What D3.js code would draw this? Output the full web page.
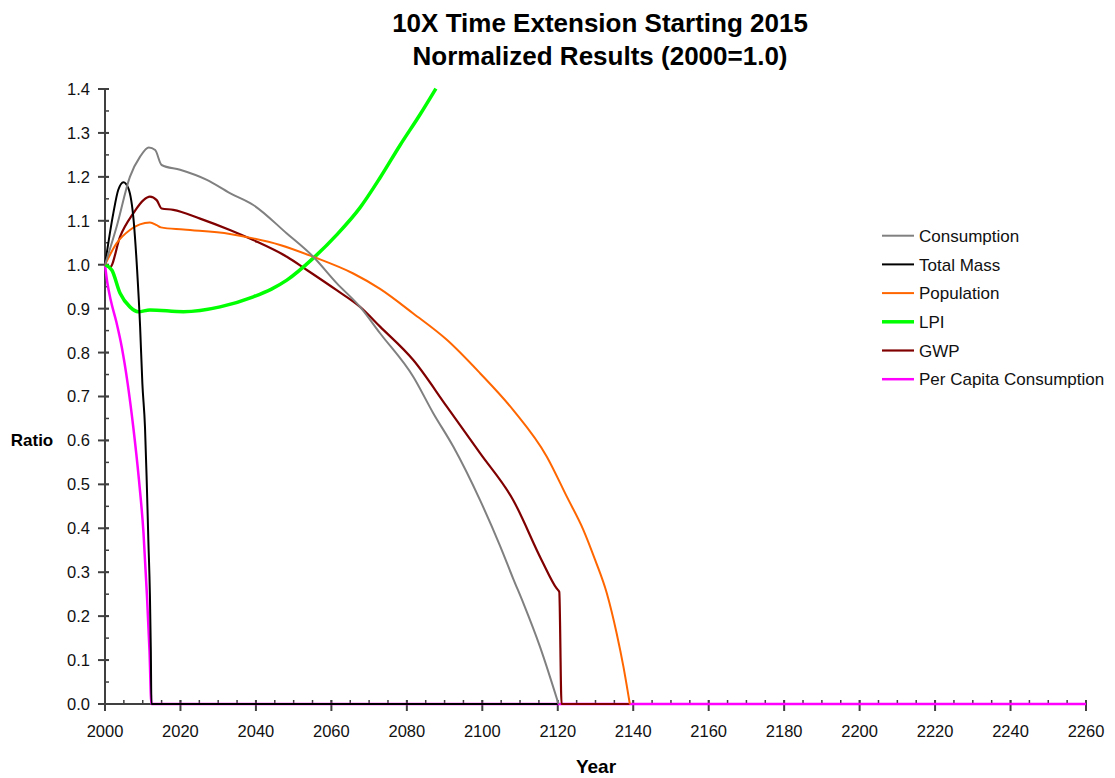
<!DOCTYPE html>
<html>
<head>
<meta charset="utf-8">
<script src="https://cdn.jsdelivr.net/npm/d3@7"></script>
<style>
  body { margin: 0; background: #fff; }
  svg { display: block; font-family: "Liberation Sans", Arial, sans-serif; }
</style>
</head>
<body>
<svg></svg>
<script>

const width = 1115;
const height = 778;

// tick labels
const xTicks = [2000, 2020, 2040, 2060, 2080, 2100, 2120, 2140, 2160, 2180, 2200, 2220, 2240, 2260];
const yTicks = [0, 0.1, 0.2, 0.3, 0.4, 0.5, 0.6, 0.7, 0.8, 0.9, 1.0, 1.1, 1.2, 1.3, 1.4];

const seriesNames = ['Consumption', 'Total Mass', 'Population', 'LPI', 'GWP', 'Per Capita Consumption'];
const seriesColors = ['#808080', '#000000', '#ff6600', '#00ff00', '#800000', '#ff00ff'];

// values (year, ratio)
const consumptionYears = [2000, 2003.1, 2006.6, 2009.3, 2011.6, 2013.3, 2015, 2019.9, 2027, 2033.1, 2039.3, 2048.2, 2055.2, 2061.4, 2067.6, 2072.9, 2081.7, 2087, 2092.3, 2099.4, 2104.7, 2108.2, 2110.9, 2115.3, 2120.2];
const consumptionVals  = [1.0, 1.087, 1.200, 1.246, 1.267, 1.261, 1.227, 1.216, 1.193, 1.163, 1.136, 1.071, 1.018, 0.958, 0.904, 0.844, 0.745, 0.662, 0.586, 0.464, 0.36, 0.285, 0.229, 0.130, 0.0];

const massYears = [2000, 2002.2, 2003.5, 2004.9, 2006.2, 2007.6, 2008.5, 2009.3, 2009.9, 2010.6, 2011.05, 2011.5, 2011.9, 2012.15, 2012.3, 2120];
const massVals  = [1.0, 1.117, 1.170, 1.188, 1.174, 1.10, 0.99, 0.86, 0.73, 0.63, 0.51, 0.37, 0.25, 0.12, 0.0, 0.0];

const populationYears = [2000, 2003.1, 2006.6, 2011.9, 2013.7, 2014.8, 2020.8, 2033.1, 2039.3, 2046.4, 2055.2, 2065.8, 2072.9, 2081.7, 2090.6, 2099.4, 2108.2, 2117.1, 2122.4, 2126.8, 2129.9, 2133, 2135.6, 2137.4, 2139.1];
const populationVals  = [1.0, 1.049, 1.079, 1.096, 1.090, 1.085, 1.080, 1.070, 1.060, 1.045, 1.018, 0.980, 0.945, 0.889, 0.829, 0.753, 0.669, 0.563, 0.472, 0.396, 0.328, 0.252, 0.161, 0.085, 0.0];

const lpiYears = [2000, 2001.8, 2004, 2006.6, 2008.8, 2011.9, 2020.8, 2030.5, 2039.3, 2044, 2048.2, 2055.2, 2061.4, 2067.6, 2072.9, 2078.2, 2083.5, 2087.7];
const lpiVals  = [1.0, 0.988, 0.935, 0.904, 0.893, 0.897, 0.893, 0.904, 0.927, 0.944, 0.965, 1.015, 1.068, 1.130, 1.198, 1.272, 1.342, 1.401];

const gwpYears = [2000, 2001.3, 2004, 2007.5, 2010.2, 2011.9, 2013.7, 2015, 2018.1, 2025.2, 2033.1, 2039.3, 2048.2, 2053.5, 2061.4, 2067.6, 2072.9, 2081.7, 2090.6, 2099.4, 2108.2, 2115.7, 2119.7, 2120.4, 2121, 2139];
const gwpVals  = [1.0, 0.994, 1.064, 1.117, 1.147, 1.155, 1.147, 1.128, 1.125, 1.105, 1.079, 1.056, 1.018, 0.988, 0.942, 0.904, 0.859, 0.783, 0.677, 0.571, 0.464, 0.328, 0.263, 0.255, 0.0, 0.0];

const perCapitaYears = [2000, 2000.6, 2001.5, 2003, 2004.5, 2006, 2007.5, 2009, 2010.2, 2011.1, 2011.8, 2012.3, 2260];
const perCapitaVals  = [1.0, 0.96, 0.92, 0.87, 0.81, 0.73, 0.63, 0.51, 0.39, 0.25, 0.12, 0.0, 0.0];

const seriesYears = [consumptionYears, massYears, populationYears, lpiYears, gwpYears, perCapitaYears];
const seriesVals = [consumptionVals, massVals, populationVals, lpiVals, gwpVals, perCapitaVals];
const seriesWidths = [2, 2, 2, 3.5, 2.2, 2.5];

const svg = d3.select('svg').attr('width', width).attr('height', height);

const x = d3.scaleLinear().domain([2000, 2260]).range([105, 1086]);
const y = d3.scaleLinear().domain([0, 1.4]).range([704, 89]);

const axisColor = '#404040';

// title
svg.append('text')
  .attr('x', 600).attr('y', 32)
  .attr('text-anchor', 'middle')
  .attr('font-size', 26).attr('font-weight', 'bold')
  .text('10X Time Extension Starting 2015');
svg.append('text')
  .attr('x', 600).attr('y', 65)
  .attr('text-anchor', 'middle')
  .attr('font-size', 26).attr('font-weight', 'bold')
  .text('Normalized Results (2000=1.0)');

// axis titles
svg.append('text')
  .attr('x', 32).attr('y', 446)
  .attr('text-anchor', 'middle')
  .attr('font-size', 17).attr('font-weight', 'bold')
  .text('Ratio');
svg.append('text')
  .attr('x', 596).attr('y', 773)
  .attr('text-anchor', 'middle')
  .attr('font-size', 19).attr('font-weight', 'bold')
  .text('Year');

// minor ticks go inside, major ticks cross the axis line
const axes = svg.append('g').attr('class', 'axes');

axes.selectAll('.xminor')
  .data(d3.range(2000, 2261, 5))
  .enter().append('line')
    .attr('x1', d => x(d)).attr('x2', d => x(d))
    .attr('y1', y(0)).attr('y2', y(0) - 4)
    .attr('stroke', axisColor)
    .attr('stroke-width', 1.5);

axes.selectAll('.xmajor')
  .data(xTicks)
  .enter().append('line')
    .attr('x1', d => x(d)).attr('x2', d => x(d))
    .attr('y1', y(0) - 4).attr('y2', y(0) + 7)
    .attr('stroke', axisColor)
    .attr('stroke-width', 2);

axes.selectAll('.yminor')
  .data(d3.range(0, 29).map(i => i * 0.05))
  .enter().append('line')
    .attr('x1', x(2000)).attr('x2', x(2000) + 4)
    .attr('y1', d => y(d)).attr('y2', d => y(d))
    .attr('stroke', axisColor)
    .attr('stroke-width', 1.5);

axes.selectAll('.ymajor')
  .data(yTicks)
  .enter().append('line')
    .attr('x1', x(2000) - 7).attr('x2', x(2000) + 4)
    .attr('y1', d => y(d)).attr('y2', d => y(d))
    .attr('stroke', axisColor)
    .attr('stroke-width', 2);

axes.append('line')
  .attr('x1', x(2000)).attr('x2', x(2000))
  .attr('y1', y(0)).attr('y2', y(1.4))
  .attr('stroke', axisColor)
  .attr('stroke-width', 2);
axes.append('line')
  .attr('x1', x(2000)).attr('x2', x(2260))
  .attr('y1', y(0)).attr('y2', y(0))
  .attr('stroke', axisColor)
  .attr('stroke-width', 2);

svg.append('g')
  .selectAll('text')
  .data(xTicks)
  .enter().append('text')
    .attr('x', d => x(d)).attr('y', 737)
    .attr('text-anchor', 'middle')
    .attr('font-size', 16.5).attr('fill', '#111')
    .text(d => d);

svg.append('g')
  .selectAll('text')
  .data(yTicks)
  .enter().append('text')
    .attr('x', 90).attr('y', d => y(d))
    .attr('dy', '0.36em')
    .attr('text-anchor', 'end')
    .attr('font-size', 16.5).attr('fill', '#111')
    .text(d => d.toFixed(1));

// lines, drawn last series first so the zero runs show like the original
const line = d3.line()
  .x(d => x(d[0]))
  .y(d => y(d[1]))
  .curve(d3.curveMonotoneX);

const order = [5, 4, 3, 2, 1, 0];

svg.append('g')
  .attr('class', 'series')
  .selectAll('path')
  .data(order)
  .enter().append('path')
    .attr('d', i => line(d3.zip(seriesYears[i], seriesVals[i])))
    .attr('fill', 'none')
    .attr('stroke', i => seriesColors[i])
    .attr('stroke-width', i => seriesWidths[i])
    .attr('stroke-linejoin', 'round');

// legend
const legend = svg.append('g')
  .attr('class', 'legend')
  .selectAll('g')
  .data(seriesNames)
  .enter().append('g')
    .attr('transform', (d, i) => `translate(882, ${235.7 + i * 28.7})`);

legend.append('line')
  .attr('x1', 0).attr('x2', 32)
  .attr('stroke', (d, i) => seriesColors[i])
  .attr('stroke-width', (d, i) => seriesWidths[i]);

legend.append('text')
  .attr('x', 37).attr('dy', '0.36em')
  .attr('font-size', 17).attr('fill', '#111')
  .text(d => d);

</script>
</body>
</html>
